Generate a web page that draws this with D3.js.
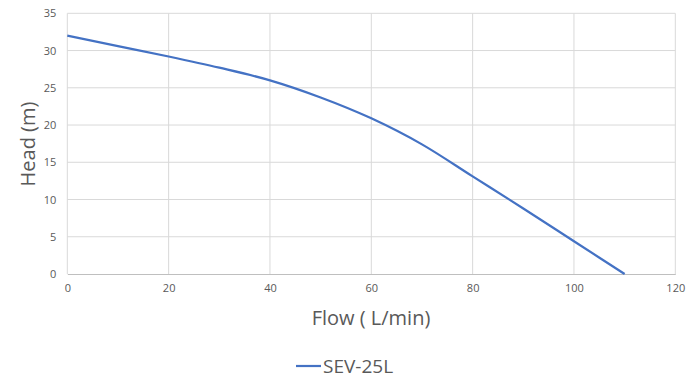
<!DOCTYPE html>
<html><head><meta charset="utf-8">
<script src="https://cdn.jsdelivr.net/npm/d3@7"></script>
<style>html,body{margin:0;padding:0;background:#fff;}svg{display:block;font-family:"Open Sans","Noto Sans",sans-serif;}</style>
</head><body>
<svg id="c" width="693" height="390"></svg>
<script>
const flow = [0, 10, 20, 30, 40, 50, 60, 70, 80, 90, 100, 110];
const head = [32, 30.6, 29.2, 27.7, 26.0, 23.7, 20.9, 17.4, 13.1, 8.8, 4.4, 0];
const xTicks = [0, 20, 40, 60, 80, 100, 120];
const yTicks = [0, 5, 10, 15, 20, 25, 30, 35];
const seriesName = "SEV-25L";
const xTitle = "Flow ( L/min)";
const yTitle = "Head (m)";

const svg = d3.select("#c");
const x = d3.scaleLinear().domain([0, 120]).range([67.3, 675.3]);
const y = d3.scaleLinear().domain([0, 35]).range([274, 13.3]);

// gridlines
svg.append("g").selectAll("line").data(yTicks.filter(d => d > 0)).join("line")
  .attr("x1", x(0)).attr("x2", x(120)).attr("y1", d => y(d)).attr("y2", d => y(d))
  .attr("stroke", "#d9d9d9").attr("stroke-width", 1);
svg.append("g").selectAll("line").data(xTicks).join("line")
  .attr("x1", d => x(d)).attr("x2", d => x(d)).attr("y1", y(0)).attr("y2", y(35))
  .attr("stroke", "#d9d9d9").attr("stroke-width", 1);

// axes
const xAxis = svg.append("g").attr("transform", `translate(0,${y(0)})`)
  .call(d3.axisBottom(x).tickValues(xTicks).tickSize(0).tickPadding(10));
xAxis.select(".domain").attr("stroke", "#bfbfbf");
xAxis.selectAll("text").attr("fill", "#595959").style("font-size", "11px").style("font-family", "'Open Sans',sans-serif");

const yAxis = svg.append("g").attr("transform", `translate(${x(0)},0)`)
  .call(d3.axisLeft(y).tickValues(yTicks).tickSize(0).tickPadding(11));
yAxis.select(".domain").remove();
yAxis.selectAll("text").attr("fill", "#595959").style("font-size", "11px").style("font-family", "'Open Sans',sans-serif");

// line
svg.append("path").datum(flow.map((f, i) => [f, head[i]]))
  .attr("fill", "none").attr("stroke", "#4472c4").attr("stroke-width", 2.2)
  .attr("d", d3.line().x(d => x(d[0])).y(d => y(d[1])).curve(d3.curveMonotoneX));

// titles
svg.append("text").attr("x", 371).attr("y", 325).attr("text-anchor", "middle")
  .attr("fill", "#595959").style("font-size", "20px").text(xTitle);
svg.append("text").attr("transform", "translate(35,144) rotate(-90)").attr("text-anchor", "middle")
  .attr("fill", "#595959").style("font-size", "20px").text(yTitle);

// legend
svg.append("line").attr("x1", 296).attr("x2", 321).attr("y1", 366).attr("y2", 366)
  .attr("stroke", "#4472c4").attr("stroke-width", 2.2);
svg.append("text").attr("x", 323).attr("y", 373).attr("fill", "#595959")
  .style("font-size", "19px").text(seriesName);
</script>
</body></html>
